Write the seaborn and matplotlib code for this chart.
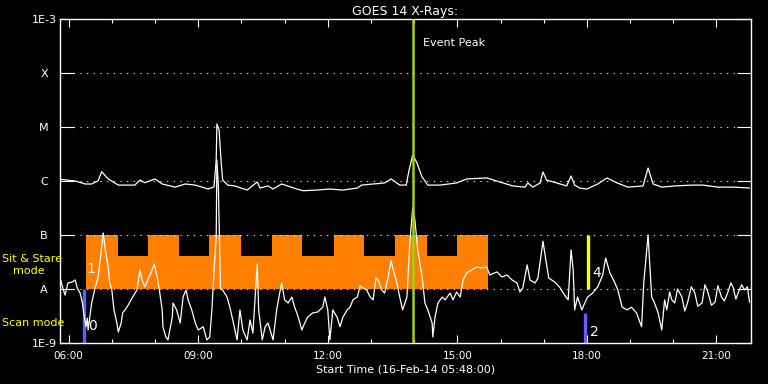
import matplotlib
matplotlib.use("Agg")
import matplotlib.pyplot as plt
import numpy as np
import pandas as pd
import seaborn as sns
from matplotlib.ticker import FixedLocator, FuncFormatter, NullLocator

sns.set_style("dark")
plt.rcParams['font.family'] = ['DejaVu Sans']

# ---------------- data ----------------
long_time = ["05:49", "06:09", "06:23", "06:32", "06:41", "06:46", "06:55", "07:09", "07:32", "07:39",
             "07:46", "08:00", "08:10", "08:28", "08:42", "08:56", "09:14", "09:22", "09:25", "09:26",
             "09:29", "09:32", "09:34", "09:41", "09:51", "10:08", "10:22", "10:26", "10:37", "10:44",
             "10:56", "11:17", "11:26", "11:45", "12:03", "12:21", "12:41", "12:47", "13:03", "13:19",
             "13:28", "13:40", "13:49", "13:53", "13:58", "14:04", "14:11", "14:19", "14:36", "14:59",
             "15:13", "15:41", "15:59", "16:17", "16:34", "16:38", "16:45", "16:55", "16:59", "17:04",
             "17:18", "17:32", "17:38", "17:43", "17:50", "18:00", "18:15", "18:28", "18:42", "18:57",
             "19:18", "19:25", "19:32", "19:44", "20:02", "20:26", "20:41", "21:02", "21:25", "21:46"]
long_flux = [1.07e-6, 1.0e-6, 8.8e-7, 8.8e-7, 1.01e-6, 1.49e-6, 1.09e-6, 8.4e-7, 8.4e-7, 1.04e-6,
             9.3e-7, 1.09e-6, 8.8e-7, 7.7e-7, 8.8e-7, 8.4e-7, 7.1e-7, 7.8e-7, 2.45e-6, 1.14e-5,
             8.8e-6, 2.15e-6, 1.04e-6, 8.4e-7, 8.1e-7, 6.8e-7, 9.6e-7, 7.4e-7, 8.1e-7, 7.1e-7,
             8.8e-7, 7.1e-7, 6.6e-7, 6.8e-7, 7.1e-7, 6.8e-7, 7.4e-7, 8.4e-7, 8.8e-7, 9.2e-7,
             1.09e-6, 8.4e-7, 8.4e-7, 1.6e-6, 3.03e-6, 2.15e-6, 1.19e-6, 8.4e-7, 8.4e-7, 9.2e-7,
             1.09e-6, 1.14e-6, 9.6e-7, 8.1e-7, 7.7e-7, 9.2e-7, 7.7e-7, 9.2e-7, 1.47e-6, 1.04e-6,
             9.2e-7, 8.1e-7, 1.24e-6, 8.4e-7, 7.4e-7, 7.1e-7, 8.8e-7, 1.14e-6, 9.2e-7, 7.7e-7,
             8.1e-7, 1.74e-6, 8.8e-7, 7.7e-7, 8.1e-7, 8.4e-7, 8.4e-7, 7.7e-7, 7.7e-7, 7.4e-7]

short_time = ["05:49", "05:52", "05:55", "05:59", "06:05", "06:09", "06:12", "06:16", "06:19", "06:21",
              "06:24", "06:26", "06:27", "06:32", "06:37", "06:41", "06:45", "06:48", "06:51", "06:55",
              "06:57", "07:00", "07:03", "07:07", "07:09", "07:13", "07:15", "07:21", "07:25", "07:29",
              "07:35", "07:39", "07:42", "07:46", "07:50", "07:56", "07:59", "08:03", "08:06", "08:10",
              "08:11", "08:15", "08:18", "08:24", "08:25", "08:30", "08:35", "08:39", "08:43", "08:46",
              "08:51", "08:56", "09:00", "09:07", "09:12", "09:16", "09:19", "09:22", "09:25", "09:26",
              "09:28", "09:31", "09:34", "09:40", "09:44", "09:48", "09:54", "09:58", "10:02", "10:08",
              "10:12", "10:16", "10:20", "10:22", "10:24", "10:29", "10:33", "10:37", "10:44", "10:49",
              "10:54", "10:56", "11:00", "11:05", "11:10", "11:14", "11:19", "11:24", "11:28", "11:32",
              "11:39", "11:46", "11:53", "11:56", "12:00", "12:03", "12:07", "12:13", "12:17", "12:21",
              "12:27", "12:31", "12:35", "12:41", "12:45", "12:49", "12:54", "12:59", "13:03", "13:07",
              "13:10", "13:15", "13:19", "13:24", "13:28", "13:30", "13:36", "13:40", "13:44", "13:50",
              "13:54", "13:58", "14:01", "14:05", "14:11", "14:15", "14:19", "14:25", "14:26", "14:29",
              "14:33", "14:39", "14:43", "14:50", "14:54", "14:59", "15:04", "15:08", "15:13", "15:20",
              "15:27", "15:34", "15:41", "15:45", "15:55", "16:02", "16:09", "16:16", "16:23", "16:27",
              "16:31", "16:37", "16:41", "16:48", "16:52", "16:56", "16:59", "17:03", "17:07", "17:15",
              "17:22", "17:29", "17:34", "17:38", "17:41", "17:43", "17:47", "17:53", "17:57", "18:01",
              "18:08", "18:15", "18:22", "18:26", "18:32", "18:39", "18:43", "18:49", "18:56", "19:02",
              "19:09", "19:16", "19:19", "19:25", "19:27", "19:30", "19:34", "19:39", "19:44", "19:48",
              "19:51", "19:55", "19:58", "20:02", "20:06", "20:12", "20:16", "20:20", "20:25", "20:30",
              "20:34", "20:40", "20:44", "20:48", "20:53", "20:58", "21:02", "21:07", "21:11", "21:16",
              "21:20", "21:23", "21:27", "21:30", "21:35", "21:39", "21:43", "21:46"]
short_flux = [1.47e-8, 1.04e-8, 7.7e-9, 1.29e-8, 1.35e-8, 1.47e-8, 1.04e-8, 8.4e-9, 5.7e-9, 3.6e-9,
              2.0e-9, 2.9e-9, 1.74e-9, 5.5e-9, 1.09e-8, 1.67e-8, 4.6e-8, 1.09e-7, 5.3e-8, 2.55e-8,
              1.29e-8, 9.6e-9, 4.1e-9, 2.35e-9, 1.6e-9, 2.35e-9, 3.6e-9, 4.6e-9, 5.7e-9, 7.1e-9,
              9.6e-9, 2.25e-8, 1.47e-8, 1.09e-8, 1.47e-8, 2.25e-8, 2.9e-8, 1.67e-8, 9.6e-9, 4.1e-9,
              2.0e-9, 1.29e-9, 1.14e-9, 3.0e-9, 5.5e-9, 4.1e-9, 2.35e-9, 7.1e-9, 9.6e-9, 6.3e-9,
              4.1e-9, 2.35e-9, 1.74e-9, 2.0e-9, 1.14e-9, 1.29e-9, 4.1e-9, 2.25e-8, 9.2e-8, 2.45e-6,
              8.0e-7, 1.0e-8, 9.6e-9, 7.1e-9, 4.6e-9, 2.67e-9, 1.14e-9, 4.1e-9, 1.74e-9, 1.14e-9,
              2.67e-9, 1.53e-9, 1.09e-8, 2.9e-8, 4.1e-9, 1.14e-9, 2.0e-9, 2.35e-9, 1.14e-9, 4.1e-9,
              9.6e-9, 1.29e-8, 6.3e-9, 5.5e-9, 7.1e-9, 4.6e-9, 3.0e-9, 1.74e-9, 2.35e-9, 3.0e-9,
              3.6e-9, 3.75e-9, 4.6e-9, 7.1e-9, 4.1e-9, 1.14e-9, 4.1e-9, 3.0e-9, 2.0e-9, 3.0e-9,
              4.1e-9, 4.6e-9, 6.3e-9, 7.1e-9, 1.14e-8, 1.04e-8, 9.6e-9, 7.1e-9, 6.3e-9, 1.6e-8,
              1.47e-8, 9.6e-9, 8.4e-9, 1.67e-8, 3.4e-8, 2.55e-8, 1.29e-8, 7.1e-9, 4.1e-9, 7.1e-9,
              7.1e-8, 3.2e-7, 1.9e-7, 5.3e-8, 1.67e-8, 5.5e-9, 4.1e-9, 2.35e-9, 1.29e-9, 3.0e-9,
              5.5e-9, 7.1e-9, 6.3e-9, 8.4e-9, 6.3e-9, 8.8e-9, 7.1e-9, 1.47e-8, 1.98e-8, 2.25e-8,
              2.55e-8, 2.45e-8, 2.55e-8, 1.82e-8, 2.07e-8, 1.67e-8, 1.82e-8, 1.47e-8, 1.29e-8, 8.8e-9,
              1.04e-8, 2.8e-8, 1.47e-8, 1.29e-8, 1.6e-8, 3.9e-8, 7.7e-8, 3.4e-8, 1.6e-8, 1.35e-8,
              1.09e-8, 7.7e-9, 6.3e-9, 5.3e-8, 2.25e-8, 4.1e-9, 7.1e-9, 4.1e-9, 5.5e-9, 7.1e-9,
              8.4e-9, 1.09e-8, 1.82e-8, 3.75e-8, 1.98e-8, 1.29e-8, 9.6e-9, 4.6e-9, 4.1e-9, 4.6e-9,
              3.6e-9, 2.0e-9, 1.29e-8, 1.0e-7, 3.4e-8, 7.1e-9, 5.5e-9, 3.6e-9, 1.74e-9, 6.3e-9,
              4.1e-9, 8.8e-9, 6.3e-9, 5.5e-9, 1.0e-8, 7.1e-9, 3.9e-9, 5.7e-9, 1.1e-8, 8.4e-9,
              4.8e-9, 5.5e-9, 1.2e-8, 8.8e-9, 5.0e-9, 5.7e-9, 1.15e-8, 7.1e-9, 6.0e-9, 8.8e-9,
              1.3e-8, 1.09e-8, 6.5e-9, 8.4e-9, 1.2e-8, 9.6e-9, 1.1e-8, 5.7e-9]

# observing-mode blocks (Sit & Stare)
mode_edges = ["06:24", "07:09", "07:50", "08:33", "09:15", "09:59", "10:42", "11:24",
              "12:08", "12:50", "13:33", "14:18", "14:59", "15:43"]
mode_top = [1e-7, 4e-8, 1e-7, 4e-8, 1e-7, 4e-8, 1e-7, 4e-8, 1e-7, 4e-8, 1e-7, 4e-8, 1e-7]
mode_base = 1e-8

scan_marks = ["06:21", "17:57"]
scan_tops = [1e-8, 3.6e-9]
stare_mark = "18:01"
stare_range = [1e-8, 1e-7]

event_peak = "13:58"

level_values = [1e-9, 1e-8, 1e-7, 1e-6, 1e-5, 1e-4, 1e-3]
level_labels = ["1E-9", "A", "B", "C", "M", "X", "1E-3"]
hour_major = ["06:00", "09:00", "12:00", "15:00", "18:00", "21:00"]
hour_minor = ["06:00", "07:00", "08:00", "09:00", "10:00", "11:00", "12:00", "13:00",
              "14:00", "15:00", "16:00", "17:00", "18:00", "19:00", "20:00", "21:00"]
t_start, t_end = "05:48", "21:48"

marker_labels = ["0", "1", "2", "4"]
marker_times = ["06:27", "06:25", "18:04", "18:07"]
marker_flux = [2.1e-9, 2.3e-8, 1.6e-9, 2.0e-8]


def hrs(s):
    h, m = s.split(":")
    return int(h) + int(m) / 60.0


def hrs_list(lst):
    return [hrs(s) for s in lst]


df = pd.concat([
    pd.DataFrame({"time": hrs_list(long_time), "flux": long_flux, "channel": "long"}),
    pd.DataFrame({"time": hrs_list(short_time), "flux": short_flux, "channel": "short"}),
])

# ---------------- figure ----------------
fig = plt.figure(figsize=(7.68, 3.84), dpi=100, facecolor="black")
ax = fig.add_axes([60 / 768, 41 / 384, 691 / 768, 324 / 384])
ax.set_facecolor("black")

# Sit & Stare mode blocks
edges = hrs_list(mode_edges)
ax.fill_between(edges, mode_base, mode_top + [mode_top[-1]], step="post",
                color="#ff8000", linewidth=0, zorder=1)

# dotted level lines
for v in level_values[1:-1]:
    ax.axhline(v, color="white", linewidth=0.8, linestyle=(0, (1, 5)), zorder=2)

# scan mode marks
for t, top in zip(scan_marks, scan_tops):
    ax.vlines(hrs(t), 1e-9, top, color="#6060ff", linewidth=2.4, zorder=2)
ax.vlines(hrs(stare_mark), stare_range[0], stare_range[1], color="#ffff00", linewidth=2.4, zorder=2)

sns.lineplot(data=df, x="time", y="flux", units="channel", estimator=None,
             color="white", linewidth=0.9, ax=ax, zorder=3, legend=False)

# event peak
ax.axvline(hrs(event_peak), color="#a0d010", linewidth=1.8, zorder=4)
ax.text(hrs(event_peak) + 0.23, 10 ** (-3 - 24 / 54), "Event Peak", color="white",
        fontsize=8, va="center", ha="left")

for lab, t, f in zip(marker_labels, marker_times, marker_flux):
    ax.text(hrs(t), f, lab, color="white", fontsize=10, ha="left", va="center", zorder=5)

ax.set_yscale("log")
ax.set_ylim(level_values[0], level_values[-1])
ax.set_xlim(hrs(t_start), hrs(t_end))
ax.yaxis.set_major_locator(FixedLocator(level_values))
ax.yaxis.set_minor_locator(NullLocator())
ax.set_yticklabels(level_labels)
for lab in ax.get_yticklabels():
    lab.set_horizontalalignment("center")
ax.xaxis.set_major_locator(FixedLocator(hrs_list(hour_major)))
ax.xaxis.set_minor_locator(FixedLocator(hrs_list(hour_minor)))
ax.xaxis.set_major_formatter(FuncFormatter(lambda v, p: f"{int(round(v)):02d}:00"))

ax.tick_params(axis="y", which="major", direction="in", length=10, width=0.8, color="white",
               labelcolor="white", labelsize=8, left=True, right=True, pad=11.5)
ax.tick_params(axis="x", which="major", direction="in", length=6, width=0.8, color="white",
               labelcolor="white", labelsize=7.5, top=True, bottom=True, pad=6)
ax.tick_params(axis="x", which="minor", direction="in", length=3, width=0.8, color="white",
               top=True, bottom=True)
for sp in ax.spines.values():
    sp.set_color("white")
    sp.set_linewidth(1.0)
ax.grid(False)

ax.set_xlabel("Start Time (16-Feb-14 05:48:00)", color="white", fontsize=8, labelpad=2)
ax.set_ylabel("")
ax.set_title("GOES 14 X-Rays:", color="white", fontsize=9, pad=3)

fig.text(2 / 768, 1 - 259 / 384, "Sit & Stare", color="#ffff00", fontsize=8, ha="left", va="center")
fig.text(13 / 768, 1 - 271 / 384, "mode", color="#ffff00", fontsize=8, ha="left", va="center")
fig.text(2 / 768, 1 - 323 / 384, "Scan mode", color="#ffff00", fontsize=8, ha="left", va="center")

fig.savefig("out.png", dpi=100, facecolor="black")
